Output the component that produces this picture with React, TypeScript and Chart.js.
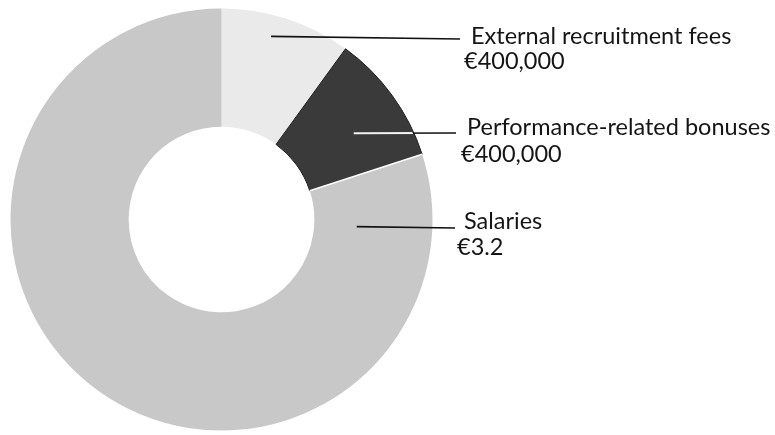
import React, { useEffect, useRef } from "react";
import { Chart, registerables } from "chart.js";

Chart.register(...registerables);

const categories = ["External recruitment fees", "Performance-related bonuses", "Salaries"];
const valuesMillions = [0.4, 0.4, 3.2];
const valueLabels = ["€400,000", "€400,000", "€3.2"];
const colors = ["#eaeaea", "#3a3a3a", "#c8c8c8"];

// leader-line / label layout (annotation styling)
const leaderAnchors = [
  { af: 0.42, rf: 0.82, endX: 460, endY: 39, textX: 471, baseY: 44, valX: 464, valY: 69 },
  { af: 0.58, rf: 0.55, endX: 456, endY: 133, textX: 467, baseY: 135, valX: 461, valY: 162 },
  { af: 0.073, rf: 0.36, endX: 455, endY: 228, textX: 464, baseY: 229, valX: 457, valY: 255 },
];

const FONT = "23.5px Lato";

const leaderPlugin = {
  id: "leaderLabels",
  afterDraw(chart: any) {
    const ctx = chart.ctx;
    const meta = chart.getDatasetMeta(0);
    meta.data.forEach((arc: any, i: number) => {
      const p = arc.getProps(["x", "y", "startAngle", "endAngle", "innerRadius", "outerRadius"], true);
      const cfg = leaderAnchors[i];
      const a = p.startAngle + cfg.af * (p.endAngle - p.startAngle);
      const r = p.innerRadius + cfg.rf * (p.outerRadius - p.innerRadius);
      const sx = p.x + r * Math.cos(a);
      const sy = p.y + r * Math.sin(a);
      ctx.save();
      ctx.lineWidth = 1.6;
      ctx.strokeStyle = "#111";
      ctx.beginPath();
      ctx.moveTo(sx, sy);
      ctx.lineTo(cfg.endX, cfg.endY);
      ctx.stroke();
      // inside the dark slice, the line appears white
      if (i === 1) {
        ctx.beginPath();
        ctx.arc(p.x, p.y, p.outerRadius - 1, p.startAngle, p.endAngle);
        ctx.arc(p.x, p.y, p.innerRadius, p.endAngle, p.startAngle, true);
        ctx.closePath();
        ctx.clip();
        ctx.strokeStyle = "#f4f4f4";
        ctx.lineWidth = 2;
        ctx.beginPath();
        ctx.moveTo(sx, sy);
        ctx.lineTo(cfg.endX, cfg.endY);
        ctx.stroke();
      }
      ctx.restore();
      ctx.save();
      ctx.fillStyle = "#151515";
      ctx.font = FONT;
      ctx.textAlign = "left";
      ctx.textBaseline = "alphabetic";
      ctx.fillText(categories[i], cfg.textX, cfg.baseY);
      ctx.fillText(valueLabels[i], cfg.valX, cfg.valY);
      ctx.restore();
    });
  },
};

export default function App() {
  const ref = useRef<HTMLCanvasElement | null>(null);
  useEffect(() => {
    if (!ref.current) return;
    const chart = new Chart(ref.current, {
      type: "doughnut",
      data: {
        labels: categories,
        datasets: [
          {
            data: valuesMillions,
            backgroundColor: colors,
            borderColor: ["#eaeaea", "#1e1e1e", "#c8c8c8"],
            borderWidth: [0, 1, 0],
          },
        ],
      },
      options: {
        responsive: false,
        animation: false,
        cutout: "44%",
        layout: { padding: { left: 10, right: 342, top: 7, bottom: 3 } },
        plugins: { legend: { display: false }, tooltip: { enabled: false } },
      },
      plugins: [
        leaderPlugin,
        {
          id: "gapLine",
          afterDatasetsDraw(chart: any) {
            // thin white seam between the dark slice and the salaries slice
            const arc = chart.getDatasetMeta(0).data[1];
            const p = arc.getProps(["x", "y", "endAngle", "innerRadius", "outerRadius"], true);
            const ctx = chart.ctx;
            ctx.save();
            ctx.strokeStyle = "#ffffff";
            ctx.lineWidth = 1.5;
            ctx.beginPath();
            ctx.moveTo(p.x + p.innerRadius * Math.cos(p.endAngle), p.y + p.innerRadius * Math.sin(p.endAngle));
            ctx.lineTo(p.x + p.outerRadius * Math.cos(p.endAngle), p.y + p.outerRadius * Math.sin(p.endAngle));
            ctx.stroke();
            ctx.restore();
          },
        },
      ],
    });
    return () => chart.destroy();
  }, []);
  return (
    <div style={{ position: "absolute", left: 0, top: 0, width: 775, height: 435, background: "#fff" }}>
      <canvas ref={ref} width={775} height={435} style={{ width: 775, height: 435 }} />
    </div>
  );
}
